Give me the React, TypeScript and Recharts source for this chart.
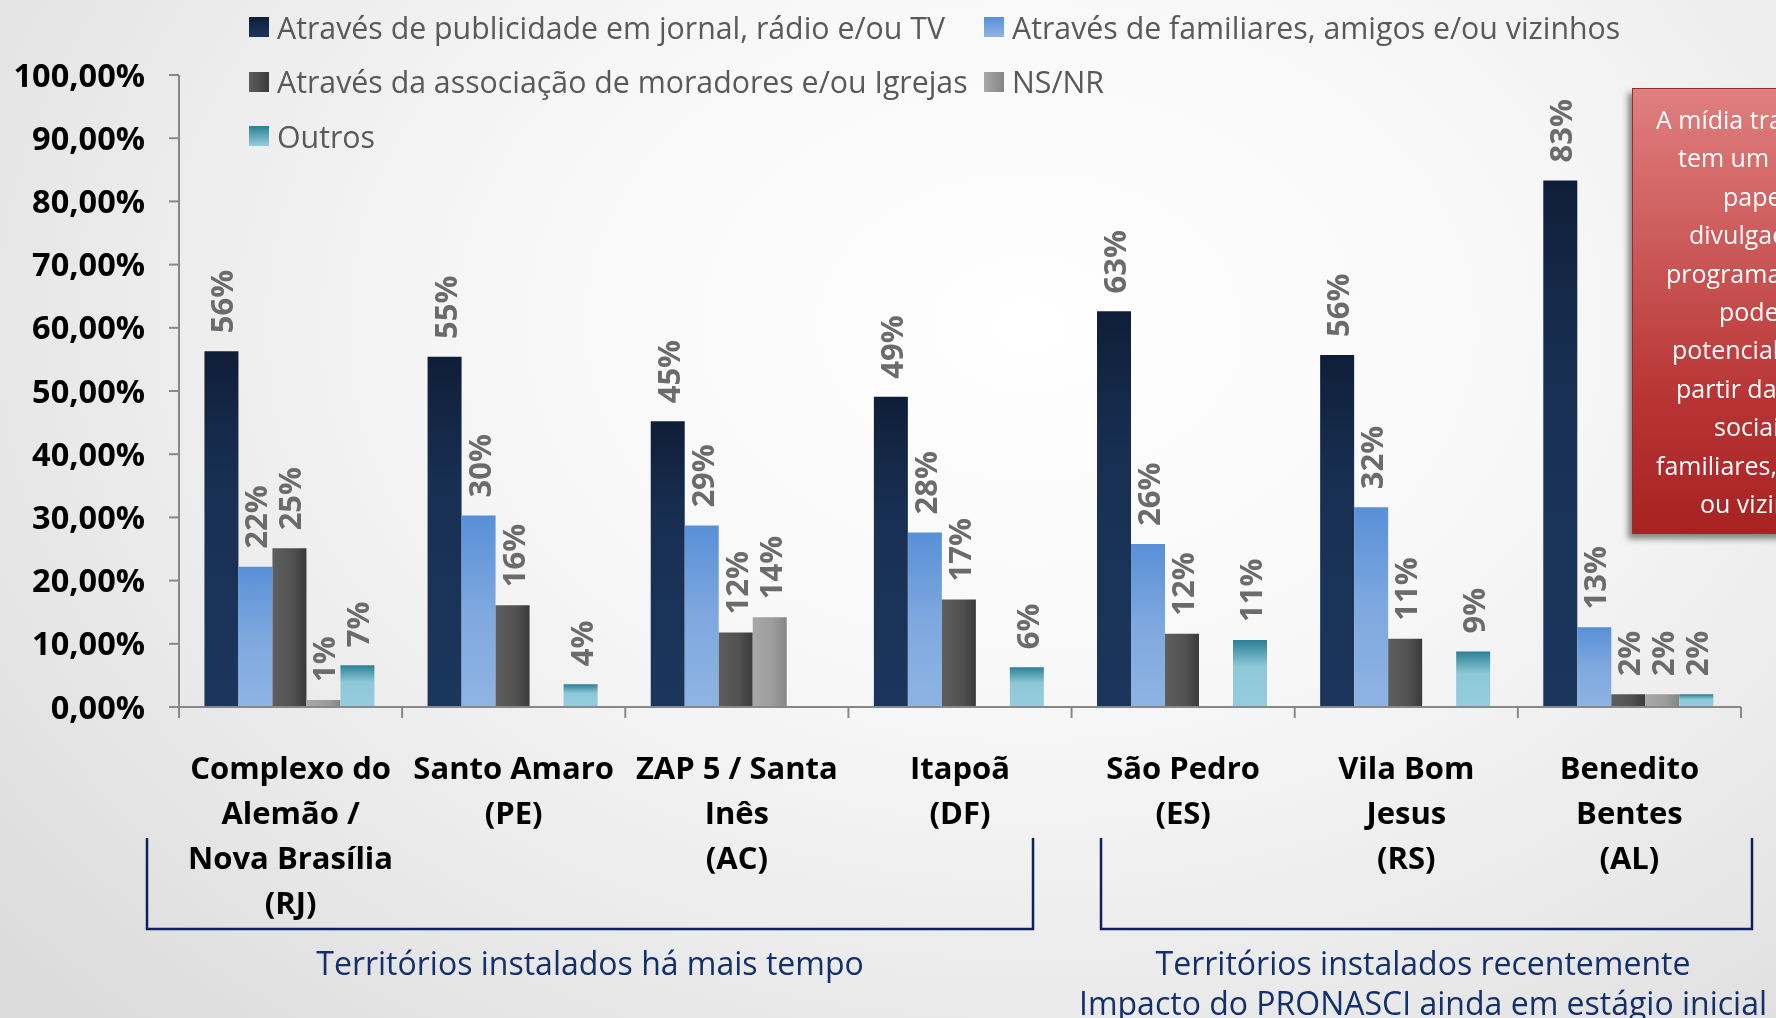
import React from "react";
import { BarChart, Bar, XAxis, YAxis, LabelList } from "recharts";

const categories = [
  "Complexo do Alemão / Nova Brasília (RJ)",
  "Santo Amaro (PE)",
  "ZAP 5 / Santa Inês (AC)",
  "Itapoã (DF)",
  "São Pedro (ES)",
  "Vila Bom Jesus (RS)",
  "Benedito Bentes (AL)",
];
const categoryLines = [
  ["Complexo do", "Alemão /", "Nova Brasília", "(RJ)"],
  ["Santo Amaro", "(PE)"],
  ["ZAP 5 / Santa", "Inês", "(AC)"],
  ["Itapoã", "(DF)"],
  ["São Pedro", "(ES)"],
  ["Vila Bom", "Jesus", "(RS)"],
  ["Benedito", "Bentes", "(AL)"],
];

const publicidade = [56.3, 55.4, 45.2, 49.1, 62.6, 55.7, 83.3];
const familiares = [22.2, 30.3, 28.7, 27.6, 25.8, 31.6, 12.6];
const associacao = [25.1, 16.1, 11.8, 17.0, 11.6, 10.8, 2.0];
const nsnr = [1.1, 0, 14.2, 0, 0, 0, 2.0];
const outros = [6.6, 3.6, 0, 6.3, 10.6, 8.8, 2.0];

const yTicks = [0, 10, 20, 30, 40, 50, 60, 70, 80, 90, 100];

const seriesNames = [
  "Através de publicidade em jornal, rádio e/ou TV",
  "Através de familiares, amigos e/ou vizinhos",
  "Através da associação de moradores e/ou Igrejas",
  "NS/NR",
  "Outros",
];
const seriesKeys = ["pub", "fam", "assoc", "ns", "outros"];

const groupLabels = [
  ["Territórios instalados há mais tempo"],
  ["Territórios instalados recentemente", "Impacto do PRONASCI ainda em estágio inicial"],
];

const noteLines = [
  "A mídia tradicional",
  "tem um importante",
  "papel na",
  "divulgação do",
  "programa, que",
  "pode ser",
  "potencializado a",
  "partir das redes",
  "sociais:",
  "familiares, amigos e/",
  "ou vizinhos",
];
const noteStarts = [23, 45, 90, 56, 33, 86, 39, 43, 81, 23, 67];

const data = categories.map((c, i) => ({
  name: c,
  pub: publicidade[i],
  fam: familiares[i],
  assoc: associacao[i],
  ns: nsnr[i],
  outros: outros[i],
}));

const FONT = "'Open Sans', 'DejaVu Sans', sans-serif";
const W = 1776;
const H = 1018;
const PLOT_LEFT = 179;
const PLOT_RIGHT_MARGIN = 35;
const PLOT_TOP = 75;
const XAXIS_H = 311;
const BAND = (W - PLOT_LEFT - PLOT_RIGHT_MARGIN) / categories.length;

const legendCss = [
  "linear-gradient(180deg,#0f1e38,#1b365d)",
  "linear-gradient(180deg,#5890d8,#8fb4e3)",
  "linear-gradient(90deg,#5e5e5e,#3a3a3a)",
  "linear-gradient(90deg,#a8a8a8,#858585)",
  "linear-gradient(180deg,#2b8095,#95cddd)",
];

const ValueLabel = (props: any) => {
  const { x, y, width, value } = props;
  if (!value || value <= 0) return null;
  const cx = x + width / 2;
  const ay = y - 18;
  return (
    <text
      x={cx}
      y={ay}
      transform={`rotate(-90 ${cx} ${ay})`}
      textAnchor="start"
      dominantBaseline="central"
      fill="#6b6b6b"
      fontFamily={FONT}
      fontWeight={700}
      fontSize={31}
    >
      {Math.round(value)}%
    </text>
  );
};

const CategoryTick = (props: any) => {
  const { x, y, index } = props;
  const lines = categoryLines[index] || [];
  const half = BAND / 2;
  return (
    <g>
      <line x1={x - half} y1={y} x2={x - half} y2={y + 11} stroke="#888" strokeWidth={2} />
      {index === categories.length - 1 && (
        <line x1={x + half} y1={y} x2={x + half} y2={y + 11} stroke="#888" strokeWidth={2} />
      )}
      {lines.map((l: string, i: number) => (
        <text
          key={i}
          x={x}
          y={y + 60 + i * 45}
          textAnchor="middle"
          dominantBaseline="central"
          fill="#000"
          fontFamily={FONT}
          fontWeight={700}
          fontSize={31}
        >
          {l}
        </text>
      ))}
    </g>
  );
};

const fmtY = (v: number) => v.toFixed(2).replace(".", ",") + "%";

export default function App() {
  return (
    <div
      style={{
        position: "fixed",
        left: 0,
        top: 0,
        width: W,
        height: H,
        overflow: "hidden",
        fontFamily: FONT,
        background:
          "radial-gradient(ellipse 75% 95% at 58% 32%, #ffffff 0%, #f7f7f7 40%, #e8e8e8 75%, #dcdcdc 100%)",
      }}
    >
      <svg width={0} height={0} style={{ position: "absolute" }}>
        <defs>
          <linearGradient id="gPub" x1="0" y1="0" x2="0" y2="1">
            <stop offset="0%" stopColor="#0f1e38" />
            <stop offset="35%" stopColor="#182f52" />
            <stop offset="100%" stopColor="#1b365d" />
          </linearGradient>
          <linearGradient id="gFam" x1="0" y1="0" x2="0" y2="1">
            <stop offset="0%" stopColor="#5890d8" />
            <stop offset="50%" stopColor="#7fa8df" />
            <stop offset="100%" stopColor="#8fb4e3" />
          </linearGradient>
          <linearGradient id="gAssoc" x1="0" y1="0" x2="1" y2="0">
            <stop offset="0%" stopColor="#5e5e5e" />
            <stop offset="60%" stopColor="#515151" />
            <stop offset="100%" stopColor="#3a3a3a" />
          </linearGradient>
          <linearGradient id="gNs" x1="0" y1="0" x2="1" y2="0">
            <stop offset="0%" stopColor="#a8a8a8" />
            <stop offset="60%" stopColor="#9c9c9c" />
            <stop offset="100%" stopColor="#858585" />
          </linearGradient>
          <linearGradient id="gOut" x1="0" y1="0" x2="0" y2="1">
            <stop offset="0%" stopColor="#2b8095" />
            <stop offset="40%" stopColor="#8ec8d8" />
            <stop offset="100%" stopColor="#95cddd" />
          </linearGradient>
        </defs>
      </svg>

      {/* Red note box (clipped by the right edge, as in the original slide) */}
      <div
        style={{
          position: "absolute",
          left: 1632,
          top: 88,
          width: 320,
          height: 444,
          background: "linear-gradient(180deg,#e07f7f 0%,#cc5a5a 35%,#b83434 70%,#a82222 100%)",
          boxShadow: "-4px 5px 6px rgba(0,0,0,0.45)",
          border: "1px solid #9b2a2a",
        }}
      >
        {noteLines.map((l, i) => (
          <div
            key={i}
            style={{
              position: "absolute",
              left: noteStarts[i],
              top: 30 + i * 38.4 - 18,
              height: 36,
              lineHeight: "36px",
              whiteSpace: "nowrap",
              color: "#ffffff",
              fontSize: 25,
              fontFamily: FONT,
            }}
          >
            {l}
          </div>
        ))}
      </div>

      <div style={{ position: "absolute", left: 0, top: 0 }}>
        <BarChart
          width={W}
          height={H}
          data={data}
          margin={{ top: PLOT_TOP, right: PLOT_RIGHT_MARGIN, left: 0, bottom: 0 }}
          barCategoryGap="11.4%"
          barGap={0}
        >
          <YAxis
            width={PLOT_LEFT}
            domain={[0, 100]}
            ticks={yTicks}
            tickFormatter={fmtY}
            tickSize={10}
            tickMargin={24}
            interval={0}
            axisLine={{ stroke: "#888", strokeWidth: 2 }}
            tickLine={{ stroke: "#888", strokeWidth: 2 }}
            tick={{ fill: "#000", fontFamily: FONT, fontWeight: 700, fontSize: 32.5 }}
          />
          <XAxis
            dataKey="name"
            height={XAXIS_H}
            interval={0}
            tickSize={0}
            tickMargin={0}
            tickLine={false}
            axisLine={{ stroke: "#888", strokeWidth: 2 }}
            tick={<CategoryTick />}
          />
          <Bar dataKey="pub" name={seriesNames[0]} fill="url(#gPub)" isAnimationActive={false}>
            <LabelList dataKey="pub" content={<ValueLabel />} />
          </Bar>
          <Bar dataKey="fam" name={seriesNames[1]} fill="url(#gFam)" isAnimationActive={false}>
            <LabelList dataKey="fam" content={<ValueLabel />} />
          </Bar>
          <Bar dataKey="assoc" name={seriesNames[2]} fill="url(#gAssoc)" isAnimationActive={false}>
            <LabelList dataKey="assoc" content={<ValueLabel />} />
          </Bar>
          <Bar dataKey="ns" name={seriesNames[3]} fill="url(#gNs)" isAnimationActive={false}>
            <LabelList dataKey="ns" content={<ValueLabel />} />
          </Bar>
          <Bar dataKey="outros" name={seriesNames[4]} fill="url(#gOut)" isAnimationActive={false}>
            <LabelList dataKey="outros" content={<ValueLabel />} />
          </Bar>
        </BarChart>
      </div>

      {/* Legend */}
      {seriesNames.map((n, i) => {
        const col = i % 2;
        const row = Math.floor(i / 2);
        const left = col === 0 ? 249 : 984;
        const cy = 27 + row * 54.5;
        return (
          <div
            key={seriesKeys[i]}
            style={{
              position: "absolute",
              left,
              top: cy - 20,
              height: 40,
              display: "flex",
              alignItems: "center",
              whiteSpace: "nowrap",
            }}
          >
            <span
              style={{
                display: "inline-block",
                width: 20,
                height: 20,
                background: legendCss[i],
                marginRight: 8,
              }}
            />
            <span style={{ color: "#595959", fontSize: 30.3, fontFamily: FONT }}>{n}</span>
          </div>
        );
      })}

      {/* Group brackets and captions */}
      <svg width={W} height={H} style={{ position: "absolute", left: 0, top: 0, pointerEvents: "none" }}>
        <polyline points="147,838 147,929 1033,929 1033,838" fill="none" stroke="#0f2060" strokeWidth={2.5} />
        <polyline points="1101,838 1101,929 1752,929 1752,838" fill="none" stroke="#0f2060" strokeWidth={2.5} />
        {groupLabels[0].map((t, i) => (
          <text key={i} x={590} y={962 + i * 40} textAnchor="middle" dominantBaseline="central" fill="#13306c" fontFamily={FONT} fontSize={32}>
            {t}
          </text>
        ))}
        {groupLabels[1].map((t, i) => (
          <text key={i} x={1423} y={962 + i * 40} textAnchor="middle" dominantBaseline="central" fill="#13306c" fontFamily={FONT} fontSize={32}>
            {t}
          </text>
        ))}
      </svg>
    </div>
  );
}
